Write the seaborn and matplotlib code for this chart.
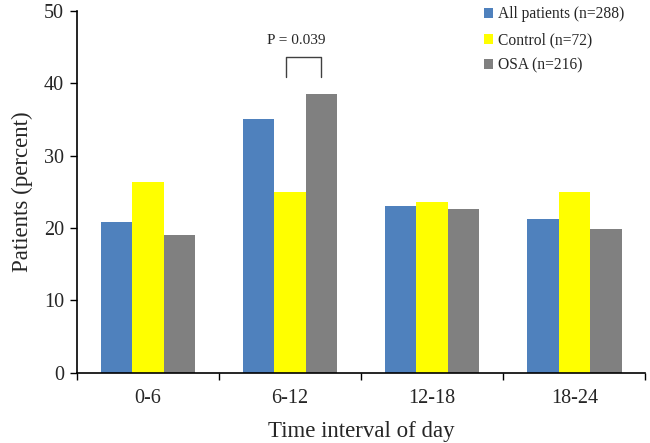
import seaborn as sns
import pandas as pd

from matplotlib import pyplot as plt
from matplotlib.ticker import FixedLocator

# values
intervals = ['0-6', '6-12', '12-18', '18-24']
groups = ['All patients (n=288)', 'Control (n=72)', 'OSA (n=216)']
all_patients = [20.8, 35.1, 23.0, 21.2]
control = [26.4, 25.0, 23.6, 25.0]
osa = [19.0, 38.5, 22.7, 19.8]
p_text = 'P = 0.039'

colors = ['#4F81BD', '#FFFF00', '#808080']

df = pd.DataFrame({
    'interval': intervals * 3,
    'group': [groups[0]] * 4 + [groups[1]] * 4 + [groups[2]] * 4,
    'percent': all_patients + control + osa,
})

sns.set_style('white')
plt.rcParams['font.family'] = ['Liberation Serif', 'DejaVu Serif']

fig = plt.figure(figsize=(6.5, 4.43), dpi=100)
ax = fig.add_axes([0.118, 0.1587, 0.875, 0.8163])

sns.barplot(data=df, x='interval', y='percent', hue='group', palette=colors,
            width=0.665, saturation=1, ax=ax, linewidth=0)

ax.set_xlim(-0.5, 3.5)
ax.set_ylim(0, 50)
ax.set_yticks(range(0, 51, 10))
ax.tick_params(axis='y', direction='out', length=5, width=1, color='black',
               labelsize=14.5, left=True, pad=4)
ax.tick_params(axis='x', which='major', length=0, labelsize=14.5, pad=12)
ax.xaxis.set_minor_locator(FixedLocator([-0.5, 0.5, 1.5, 2.5, 3.5]))
ax.tick_params(axis='x', which='minor', direction='out', length=5, width=1,
               color='black', bottom=True)

for side in ['top', 'right']:
    ax.spines[side].set_visible(False)
for side in ['left', 'bottom']:
    ax.spines[side].set_color('black')
    ax.spines[side].set_linewidth(1.2)

ax.set_xlabel('Time interval of day', fontsize=16.5, labelpad=9)
ax.set_ylabel('Patients (percent)', fontsize=16.5, labelpad=8)

# significance bracket between control and OSA in 6-12
bw = 0.665 / 3
x1, x2 = 1 - 0.03, 1 + bw
ax.plot([x1, x1, x2, x2], [40.9, 43.6, 43.6, 40.9], color='#404040', lw=1)
ax.text((x1 + x2) / 2 - 0.05, 46.0, p_text, ha='center', va='center', fontsize=11)

leg = ax.legend(loc='upper left', bbox_to_anchor=(0.705, 1.03), frameon=False,
                fontsize=11.2, handlelength=0.6, handleheight=0.6,
                handletextpad=0.3, labelspacing=0.62, borderaxespad=0)

fig.savefig('out.png', dpi=100)
